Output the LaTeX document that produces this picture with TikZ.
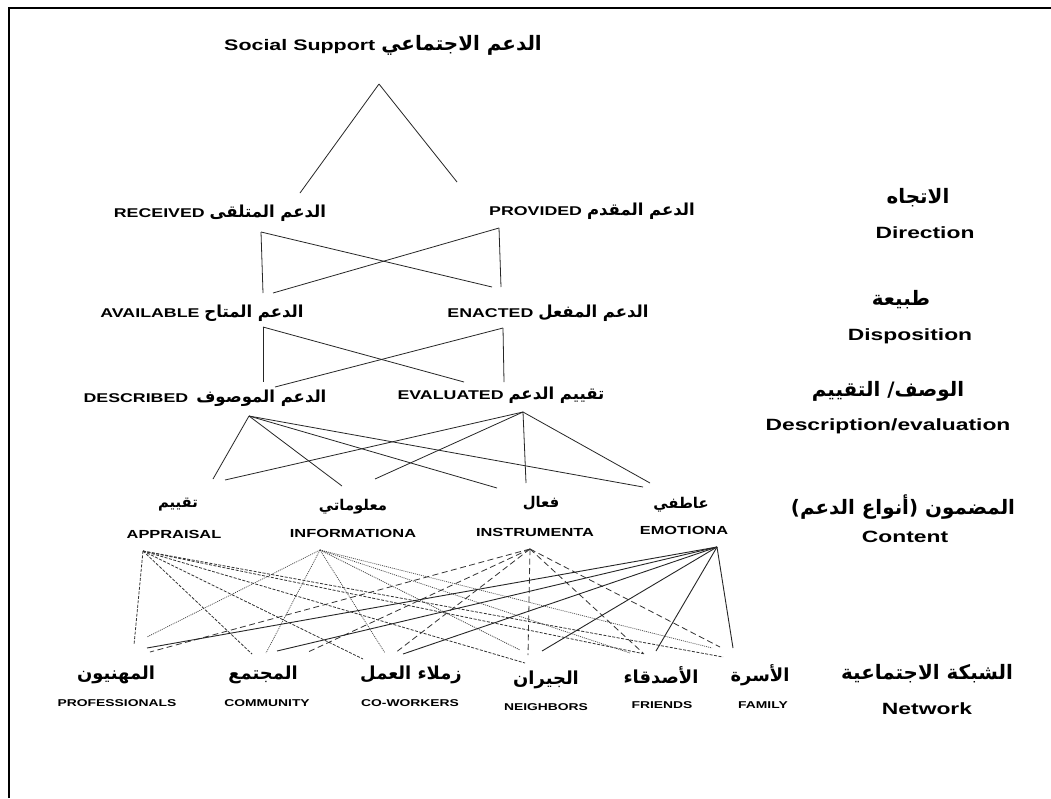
\documentclass[tikz,border=0pt]{standalone}
\usepackage{fontspec}
\setmainfont{Liberation Sans}[FakeStretch=1.4]
\newfontfamily\ar[Script=Arabic,Scale=1.3]{DejaVu Sans}
\TeXXeTstate=1
\newcommand{\AR}[1]{{\ar\beginR #1\endR}}
\newcommand{\fsz}[1]{\fontsize{#1}{#1}\selectfont}
\begin{document}
\begin{tikzpicture}[x=1pt,y=-1pt,
  lbl/.style={inner sep=0pt,font=\bfseries\fsz{12.7}},
  side/.style={inner sep=0pt,font=\bfseries\fsz{16.3}},
  sideA/.style={inner sep=0pt,font=\bfseries\fsz{15.3}},
  cnt/.style={inner sep=0pt,font=\bfseries\fsz{11.7}},
  cntA/.style={inner sep=0pt,font=\bfseries\fsz{11.4}},
  net/.style={inner sep=0pt,font=\bfseries\fsz{9.9}},
  netA/.style={inner sep=0pt,font=\bfseries\fsz{13.8}},
  ln/.style={line width=0.8pt,black!85},
  emo/.style={line width=0.9pt,black!85},
  app/.style={line width=0.8pt,black!80,dash pattern=on 3pt off 1.5pt},
  inf/.style={line width=0.7pt,black!75,dash pattern=on 1pt off 1pt},
  ins/.style={line width=0.8pt,black!80,dash pattern=on 6pt off 3.5pt}]
\useasboundingbox (0,0) rectangle (1051,798);
\fill[white] (0,0) rectangle (1051,798);
% frame
\coordinate (fL) at (9,798);
\coordinate (fC) at (9,8);
\coordinate (fR) at (1051,8);
\draw[line width=2.8pt] (fL) -- (fC) -- (fR);

% title and levels
\node[lbl,font=\bfseries\fsz{15.3}] (ss) at (383,45) {Social Support \AR{الدعم الاجتماعي}};
\node[lbl] (rec) at (220,213) {RECEIVED \AR{الدعم المتلقى}};
\node[lbl] (pro) at (592,211) {PROVIDED \AR{الدعم المقدم}};
\node[lbl] (ava) at (202,313) {AVAILABLE \AR{الدعم المتاح}};
\node[lbl] (ena) at (548,313) {ENACTED \AR{الدعم المفعل}};
\node[lbl] (des) at (205,398) {DESCRIBED\hspace{8pt}\AR{الدعم الموصوف}};
\node[lbl] (eva) at (501,395) {EVALUATED \AR{تقييم الدعم}};

% side labels
\node[sideA] (sdA) at (918,198) {\AR{الاتجاه}};
\node[side] (sdB) at (925,233) {Direction};
\node[sideA] (spA) at (901,300) {\AR{طبيعة}};
\node[side] (spB) at (910,336) {Disposition};
\node[sideA] (seA) at (888,391) {\AR{الوصف/ التقييم}};
\node[side] (seB) at (888,426) {Description/evaluation};
\node[sideA] (scA) at (903,507) {\AR{المضمون (أنواع الدعم)}};
\node[side] (scB) at (905,537) {Content};
\node[sideA] (snA) at (927,674) {\AR{الشبكة الاجتماعية}};
\node[side] (snB) at (927,709) {Network};

% content
\node[cntA] (apA) at (178,505) {\AR{تقييم}};
\node[cnt] (ap) at (174,534) {APPRAISAL};
\node[cntA] (inA) at (353,507) {\AR{معلوماتي}};
\node[cnt] (in) at (353,533) {INFORMATIONA};
\node[cntA] (isA) at (541,503) {\AR{فعال}};
\node[cnt] (is) at (535,532) {INSTRUMENTA};
\node[cntA] (emA) at (681,505) {\AR{عاطفي}};
\node[cnt] (em) at (684,530) {EMOTIONA};

% network
\node[netA] (prA) at (116,675) {\AR{المهنيون}};
\node[net] (pr) at (117,703) {PROFESSIONALS};
\node[netA] (coA) at (263,675) {\AR{المجتمع}};
\node[net] (co) at (267,703) {COMMUNITY};
\node[netA] (cwA) at (411,675) {\AR{زملاء العمل}};
\node[net] (cw) at (410,703) {CO-WORKERS};
\node[netA] (neA) at (546,680) {\AR{الجيران}};
\node[net] (ne) at (546,707) {NEIGHBORS};
\node[netA] (frA) at (661,675) {\AR{الأصدقاء}};
\node[net] (fr) at (662,705) {FRIENDS};
\node[netA] (faA) at (760,675) {\AR{الأسرة}};
\node[net] (fa) at (763,705) {FAMILY};

% connection points
\coordinate (ssB) at (379,84);
\coordinate (recT) at (300,193);
\coordinate (proT) at (457,182);
\coordinate (recB) at (261,232);
\coordinate (proB) at (499,228);
\coordinate (avaT) at (263,293);
\coordinate (avaTx) at (273,293);
\coordinate (enaT) at (501,287);
\coordinate (enaTx) at (492,287);
\coordinate (avaB) at (263,327);
\coordinate (enaB) at (503,328);
\coordinate (desT) at (263,382);
\coordinate (desTx) at (275,387);
\coordinate (evaT) at (504,382);
\coordinate (evaTx) at (464,382);
\coordinate (desB) at (249,416);
\coordinate (evaB) at (523,412);
\coordinate (apT1) at (213,479);
\coordinate (apT2) at (225,480);
\coordinate (inT1) at (342,486);
\coordinate (inT2) at (375,479);
\coordinate (isT1) at (497,488);
\coordinate (isT2) at (526,483);
\coordinate (emT1) at (643,487);
\coordinate (emT2) at (650,483);
\coordinate (apB) at (143,551);
\coordinate (inB) at (320,550);
\coordinate (isB) at (530,549);
\coordinate (emB) at (717,547);

% top structure
\draw[ln] (ssB) -- (recT);
\draw[ln] (ssB) -- (proT);
\draw[ln] (recB) -- (avaT);
\draw[ln] (recB) -- (enaTx);
\draw[ln] (proB) -- (avaTx);
\draw[ln] (proB) -- (enaT);
\draw[ln] (avaB) -- (desT);
\draw[ln] (avaB) -- (evaTx);
\draw[ln] (enaB) -- (desTx);
\draw[ln] (enaB) -- (evaT);
\draw[ln] (desB) -- (apT1);
\draw[ln] (desB) -- (inT1);
\draw[ln] (desB) -- (isT1);
\draw[ln] (desB) -- (emT1);
\draw[ln] (evaB) -- (apT2);
\draw[ln] (evaB) -- (inT2);
\draw[ln] (evaB) -- (isT2);
\draw[ln] (evaB) -- (emT2);

% network endpoints
\coordinate (prE) at (147,648); \coordinate (coE) at (277,651);
\coordinate (cwE) at (403,654); \coordinate (neE) at (542,651);
\coordinate (frE) at (656,651); \coordinate (faE) at (733,648);
\coordinate (prP) at (134,645); \coordinate (coP) at (252,654);
\coordinate (cwP) at (363,659); \coordinate (neP) at (525,663);
\coordinate (frP) at (645,654); \coordinate (faP) at (723,657);
\coordinate (prI) at (147,637); \coordinate (coI) at (266,653);
\coordinate (cwI) at (385,653); \coordinate (neI) at (520,650);
\coordinate (frI) at (630,653); \coordinate (faI) at (712,648);
\coordinate (prS) at (150,652); \coordinate (coS) at (308,652);
\coordinate (cwS) at (395,653); \coordinate (neS) at (528,655);
\coordinate (frS) at (643,653); \coordinate (faS) at (720,647);

\foreach \t in {prP,coP,cwP,neP,frP,faP} \draw[app] (apB) -- (\t);
\foreach \t in {prI,coI,cwI,neI,frI,faI} \draw[inf] (inB) -- (\t);
\foreach \t in {prS,coS,cwS,neS,frS,faS} \draw[ins] (isB) -- (\t);
\foreach \t in {prE,coE,cwE,neE,frE,faE} \draw[emo] (emB) -- (\t);
\end{tikzpicture}
\end{document}
